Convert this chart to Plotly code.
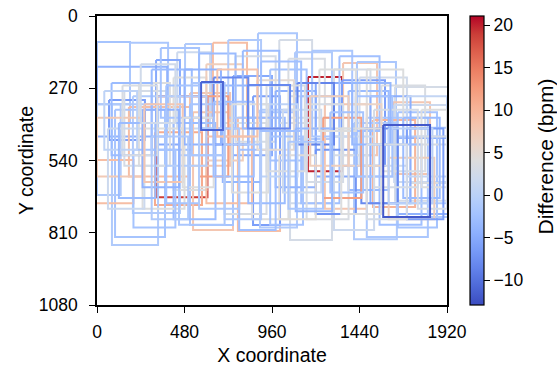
import plotly.graph_objects as go
from plotly.colors import sample_colorscale

# Bounding boxes on a 1920x1080 frame: left, right, top, bottom (drawn in list order)
box_x0 = [1157, 330, 0, 181, 0, 440, 483, 636, 883, 324,
          746, 66, 318, 175, 510, 1086, 1350, 1426, 1344, 1635,
          1624, 1630, 1717, 1650, 1514, 1059, 1059, 1410, 1480, 1650,
          1645, 1717, 82, 99, 197, 0, 527, 773, 510, 856,
          -20, 894, 230, 300, 420, 600, 690, 760, 950, 980,
          1050, 1120, 1200, 1250, 1300, 1380, 1440, 1500, 1560, 1700,
          850, 700, 600, 420, 250, 150, 80, 0, 350, 560,
          720, 1000, 1180, 1330, 1480, 950, 1150, 1300, 1550, 1600,
          1200, 1000, 780, 450, 200, 640, 880, 1100, 1380, 1450,
          1680, 1780, 560, 1240, 380, 900, 1150, 60, 250, 1700,
          800, 480, 140, 40, 260, 380, 470, 560, 640, 740,
          830, 930, 1020, 1090, 1170, 1280, 1340, 1420, 1520, 1600,
          1760, 300, 120, 660, 900, 1220, 1400, 520, 240, 700,
          1050, 1480, 828, 1570, 571]
box_x1 = [1344, 606, 181, 390, 385, 620, 630, 823, 1097, 455,
          960, 263, 576, 510, 730, 1289, 1536, 1640, 1580, 1980,
          1827, 1950, 1960, 1940, 1745, 1289, 1289, 1645, 1815, 1865,
          1950, 1930, 335, 373, 455, 130, 746, 1004, 746, 1004,
          200, 1097, 400, 520, 600, 800, 900, 980, 1150, 1200,
          1250, 1330, 1420, 1480, 1500, 1600, 1700, 1720, 1800, 1920,
          1050, 930, 850, 650, 480, 380, 300, 250, 560, 760,
          900, 1180, 1400, 1550, 1680, 1130, 1380, 1520, 1780, 1850,
          1420, 1200, 980, 700, 430, 830, 1080, 1300, 1560, 1650,
          1880, 1920, 720, 1450, 600, 1100, 1350, 260, 450, 1900,
          1000, 680, 330, 220, 470, 560, 640, 780, 860, 940,
          1030, 1140, 1230, 1290, 1380, 1460, 1560, 1620, 1760, 1840,
          1920, 500, 320, 880, 1120, 1420, 1610, 700, 430, 900,
          1240, 1700, 1059, 1827, 691]
box_y0 = [228, 300, 97, 100, 190, 135, 105, 100, 64, 164,
          224, 314, 434, 340, 288, 135, 176, 172, 240, 265,
          322, 333, 418, 456, 389, 380, 300, 400, 380, 360,
          450, 480, 330, 350, 300, 330, 360, 380, 330, 300,
          538, 350, 250, 200, 230, 180, 260, 150, 200, 280,
          160, 300, 250, 330, 200, 280, 230, 300, 260, 300,
          420, 400, 450, 400, 420, 280, 250, 380, 120, 140,
          90, 90, 130, 150, 200, 450, 420, 450, 480, 530,
          500, 520, 500, 520, 500, 230, 240, 250, 330, 420,
          380, 350, 300, 380, 300, 330, 330, 420, 350, 420,
          130, 200, 260, 280, 330, 260, 380, 420, 320, 330,
          380, 260, 350, 420, 300, 360, 420, 300, 350, 420,
          450, 450, 400, 200, 170, 200, 250, 250, 180, 480,
          470, 480, 258, 407, 247]
box_y1 = [580, 677, 330, 400, 450, 420, 380, 420, 360, 480,
          520, 463, 706, 600, 560, 460, 520, 600, 560, 690,
          590, 620, 700, 740, 714, 837, 700, 834, 826, 790,
          751, 624, 856, 826, 736, 669, 800, 803, 781, 781,
          700, 790, 560, 500, 650, 540, 620, 470, 540, 640,
          480, 700, 600, 720, 520, 650, 560, 700, 580, 600,
          760, 740, 700, 760, 720, 560, 520, 600, 380, 420,
          380, 400, 450, 430, 480, 780, 760, 800, 780, 760,
          740, 760, 800, 780, 790, 480, 500, 480, 560, 700,
          680, 640, 600, 680, 560, 600, 620, 720, 640, 760,
          420, 480, 520, 500, 620, 700, 640, 720, 600, 660,
          700, 580, 660, 730, 560, 660, 740, 600, 640, 700,
          720, 760, 680, 450, 430, 430, 480, 520, 400, 760,
          720, 760, 420, 751, 426]
# Heart-rate difference for each box (bpm)
difference = [20.0, 19.0, -2.0, -1.5, -4.0, 2.0, -1.0, 9.0, -1.5, -5.0,
              -5.0, -6.0, 11.0, 9.0, 8.0, -1.0, 8.0, -1.5, -6.0, 3.0,
              8.0, 2.0, -1.0, -4.0, 10.0, 3.0, 2.5, -1.0, -1.5, -2.0,
              -1.0, 3.5, -1.0, -2.0, -1.0, -1.0, 8.0, 9.0, -2.0, -6.0,
              9.0, -1.0, 4.0, -3.0, 4.0, 7.0, -3.5, 3.0, -2.0, -4.0,
              3.5, -2.5, -5.0, 8.0, 3.0, -3.0, 2.5, -4.5, 3.5, 1.0,
              4.0, 3.5, 9.0, -3.0, 4.0, 3.0, -3.0, 7.5, -2.0, -3.0,
              -1.0, 3.0, -1.5, -2.5, 4.0, -2.0, 3.5, 2.0, -2.5, 7.0,
              -7.0, 4.5, -2.5, -1.5, -2.0, -8.0, 5.0, -8.5, 6.0, -8.0,
              -3.0, 4.0, 12.0, 12.0, -0.5, 0.5, 3.0, 2.0, -4.0, -6.0,
              -3.0, -4.0, 3.5, 0.5, 8.0, -2.0, 4.0, -1.0, -2.5, 4.0,
              -3.0, 3.5, 2.0, -3.5, 7.0, -2.0, 4.0, -2.0, 3.0, 0.0,
              3.0, -1.0, -3.0, 8.5, -2.5, 4.0, -3.5, -1.5, 2.5, -1.0,
              -1.5, 3.0, -8.0, -12.0, -11.0]

x_ticks = [0, 480, 960, 1440, 1920]
y_ticks = [0, 270, 540, 810, 1080]
cbar_ticks = [-10, -5, 0, 5, 10, 15, 20]

# Diverging cool-warm colour map
coolwarm = [
    [0.0, "rgb(59,76,192)"], [0.0625, "rgb(77,104,215)"], [0.125, "rgb(98,130,234)"],
    [0.1875, "rgb(119,154,247)"], [0.25, "rgb(141,176,254)"], [0.3125, "rgb(163,194,255)"],
    [0.375, "rgb(184,208,249)"], [0.4375, "rgb(204,217,238)"], [0.5, "rgb(221,221,221)"],
    [0.5625, "rgb(236,211,197)"], [0.625, "rgb(245,196,173)"], [0.6875, "rgb(247,177,148)"],
    [0.75, "rgb(244,154,123)"], [0.8125, "rgb(236,127,99)"], [0.875, "rgb(222,96,77)"],
    [0.9375, "rgb(203,62,56)"], [1.0, "rgb(180,4,38)"],
]
cmin, cmax = -12.9, 21.1

FONT = "Liberation Sans, Arial, sans-serif"

fig = go.Figure()

norm = [(v - cmin) / (cmax - cmin) for v in difference]
colors = sample_colorscale(coolwarm, norm)

for x0, x1, y0, y1, c in zip(box_x0, box_x1, box_y0, box_y1, colors):
    fig.add_trace(go.Scatter(
        x=[x0, x1, x1, x0, x0], y=[y0, y0, y1, y1, y0],
        mode="lines", line=dict(color=c, width=2),
        hoverinfo="skip", showlegend=False,
    ))

# Colour bar carrier
fig.add_trace(go.Scatter(
    x=[960], y=[540], mode="markers",
    marker=dict(
        color=[0], colorscale=coolwarm, cmin=cmin, cmax=cmax, size=0.1, opacity=0,
        showscale=True,
        colorbar=dict(
            x=1.066, xanchor="left", xpad=0, y=0.5, yanchor="middle", ypad=0,
            len=1, lenmode="fraction", thickness=14,
            outlinewidth=1.2, outlinecolor="black",
            ticks="outside", ticklen=6, tickwidth=1.3, tickcolor="black",
            tickvals=cbar_ticks, tickfont=dict(family=FONT, size=17.5, color="black"),
        ),
    ),
    hoverinfo="skip", showlegend=False,
))

fig.add_annotation(
    text="Difference (bpm)", xref="paper", yref="paper",
    x=1.281, y=0.515, xanchor="center", yanchor="middle",
    textangle=-90, showarrow=False,
    font=dict(family=FONT, size=21, color="black"),
)

axis_common = dict(
    showline=True, linecolor="black", linewidth=1.6, mirror=True,
    ticks="outside", ticklen=6, tickwidth=1.3, tickcolor="black",
    showgrid=False, zeroline=False, automargin=False,
    tickfont=dict(family=FONT, size=17.5, color="black"),
)

fig.update_layout(
    width=557, height=366,
    margin=dict(l=97, r=110, t=16, b=61),
    paper_bgcolor="white", plot_bgcolor="white",
    xaxis=dict(range=[0, 1920], tickvals=x_ticks, ticklabelstandoff=4,
               title=dict(text="X coordinate", font=dict(family=FONT, size=19.5, color="black"),
                          standoff=10),
               **axis_common),
    yaxis=dict(range=[1080, 0], tickvals=y_ticks, ticklabelstandoff=8,
               title=dict(text="Y coordinate", font=dict(family=FONT, size=19.5, color="black"),
                          standoff=0),
               **axis_common),
)

fig.write_html("out.html")
